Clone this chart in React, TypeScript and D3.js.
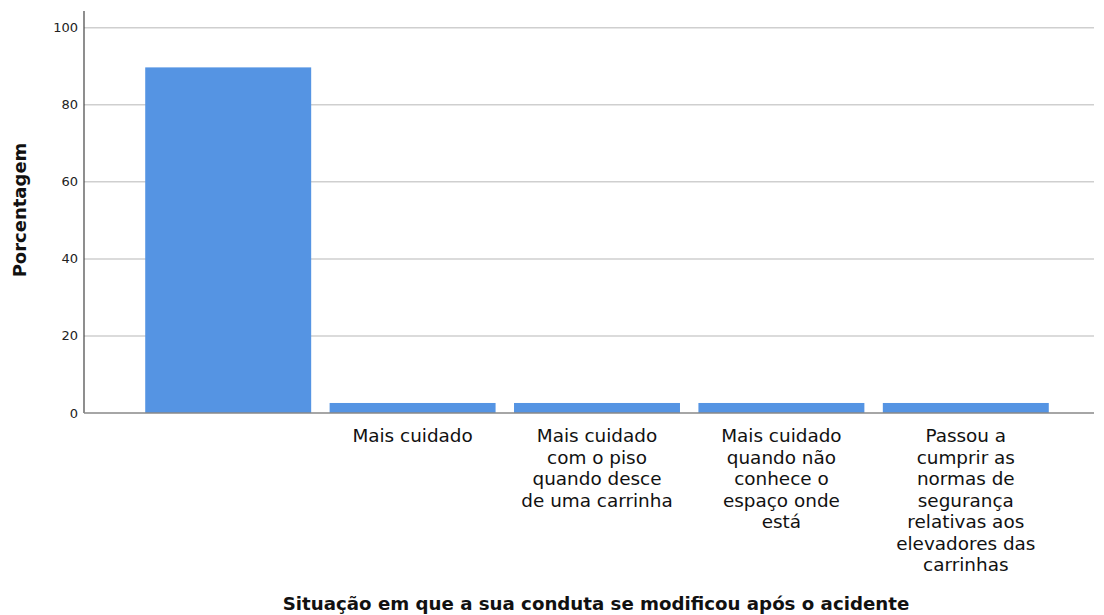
import React, { useEffect, useRef } from 'react';
import * as d3 from 'd3';

const categories = [
  '',
  'Mais cuidado',
  'Mais cuidado\ncom o piso\nquando desce\nde uma carrinha',
  'Mais cuidado\nquando não\nconhece o\nespaço onde\nestá',
  'Passou a\ncumprir as\nnormas de\nsegurança\nrelativas aos\nelevadores das\ncarrinhas',
];
const percentages = [89.7, 2.6, 2.6, 2.6, 2.6];
const yTicks = [0, 20, 40, 60, 80, 100];
const yTitle = 'Porcentagem';
const xTitle = 'Situação em que a sua conduta se modificou após o acidente';

export default function App() {
  const svgRef = useRef<SVGSVGElement>(null);

  useEffect(() => {
    const svg = d3.select(svgRef.current);
    svg.selectAll('*').remove();

    const width = 1104;
    const height = 615;
    const axisX = 84;
    const rightX = 1094;
    const font = '"DejaVu Sans", sans-serif';

    const y = d3.scaleLinear().domain([0, 100]).range([413, 27.7]);
    const x = d3.scaleBand<number>()
      .domain(categories.map((_, i) => i))
      .range([136, 1058])
      .paddingInner(0.1)
      .paddingOuter(0.05);

    svg.attr('width', width).attr('height', height);

    // gridlines
    svg.append('g')
      .selectAll('line')
      .data(yTicks.filter(t => t > 0))
      .join('line')
      .attr('x1', axisX)
      .attr('x2', rightX)
      .attr('y1', d => y(d))
      .attr('y2', d => y(d))
      .attr('stroke', '#cfcfcf')
      .attr('stroke-width', 1.5);

    // bars
    svg.append('g')
      .selectAll('rect')
      .data(percentages)
      .join('rect')
      .attr('x', (_, i) => x(i)!)
      .attr('y', d => y(d))
      .attr('width', x.bandwidth())
      .attr('height', d => y(0) - y(d))
      .attr('fill', '#5594e3');

    // axis lines
    svg.append('line')
      .attr('x1', axisX).attr('x2', axisX)
      .attr('y1', 11).attr('y2', y(0))
      .attr('stroke', '#444').attr('stroke-width', 1.2);
    svg.append('line')
      .attr('x1', axisX).attr('x2', rightX)
      .attr('y1', y(0)).attr('y2', y(0))
      .attr('stroke', '#888').attr('stroke-width', 1.5);

    // y tick labels
    svg.append('g')
      .selectAll('text')
      .data(yTicks)
      .join('text')
      .attr('x', 78)
      .attr('y', d => y(d))
      .attr('dy', '0.35em')
      .attr('text-anchor', 'end')
      .attr('font-family', font)
      .attr('font-size', 13)
      .attr('fill', '#222')
      .text(d => d);

    // category labels (wrapped lines)
    categories.forEach((cat, i) => {
      const cx = x(i)! + x.bandwidth() / 2;
      const t = svg.append('text')
        .attr('text-anchor', 'middle')
        .attr('font-family', font)
        .attr('font-size', 18.4)
        .attr('fill', '#111');
      cat.split('\n').forEach((line, j) => {
        t.append('tspan')
          .attr('x', cx)
          .attr('y', 442 + j * 21.5)
          .text(line);
      });
    });

    // titles
    svg.append('text')
      .attr('transform', 'translate(26,210) rotate(-90)')
      .attr('text-anchor', 'middle')
      .attr('font-family', font)
      .attr('font-weight', 'bold')
      .attr('font-size', 18)
      .attr('fill', '#111')
      .text(yTitle);

    svg.append('text')
      .attr('x', 596)
      .attr('y', 610)
      .attr('text-anchor', 'middle')
      .attr('font-family', font)
      .attr('font-weight', 'bold')
      .attr('font-size', 18.2)
      .attr('fill', '#111')
      .text(xTitle);
  }, []);

  return (
    <div style={{ position: 'absolute', left: 0, top: 0 }}>
      <svg ref={svgRef}></svg>
    </div>
  );
}
